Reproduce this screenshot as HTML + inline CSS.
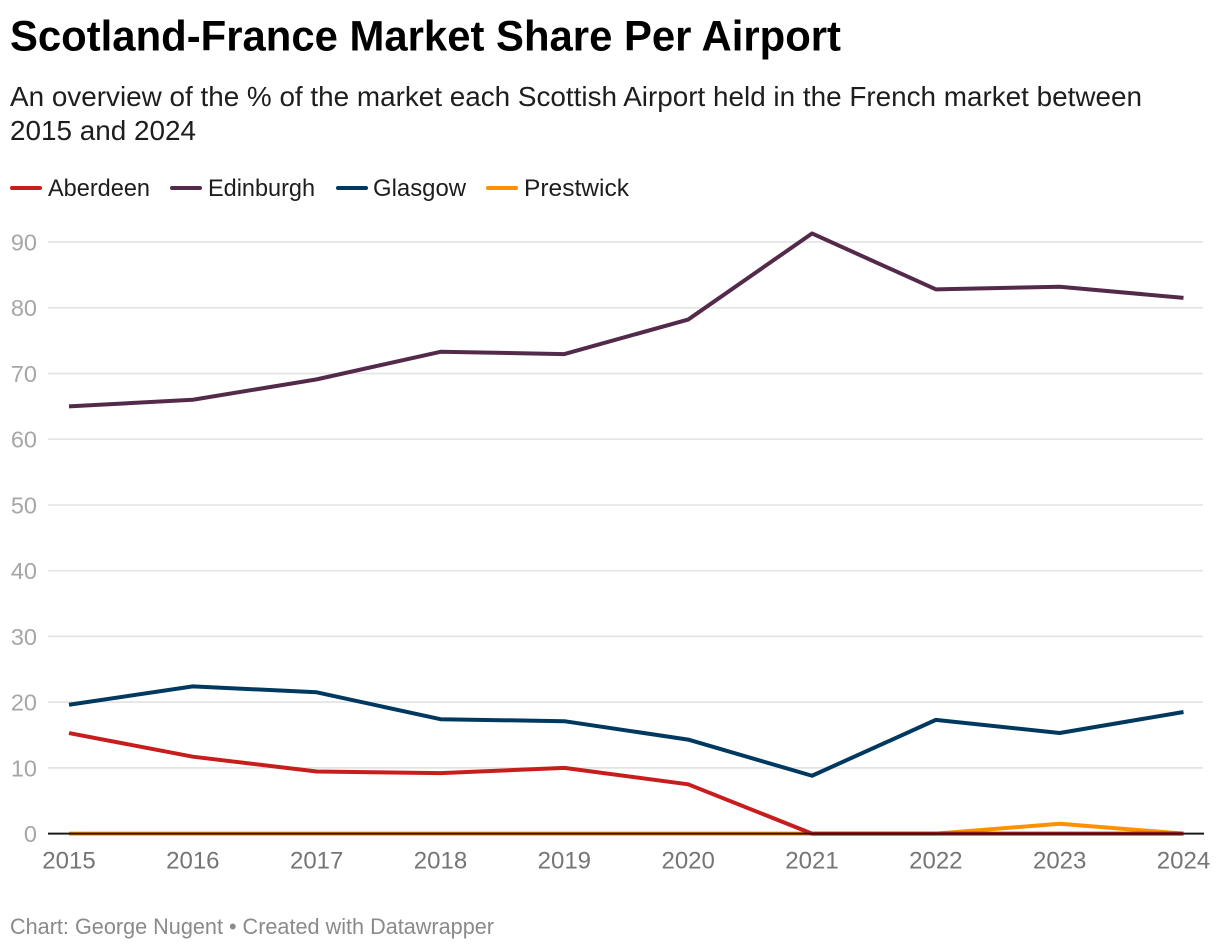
<!DOCTYPE html>
<html lang="en">
<head>
<meta charset="utf-8">
<title>Scotland-France Market Share Per Airport</title>
<style>
html,body{margin:0;padding:0;background:#fff;width:1220px;height:950px;overflow:hidden}
svg{display:block;font-family:"Liberation Sans",Arimo,sans-serif}
</style>
</head>
<body>
<svg id="chart" width="1220" height="950" viewBox="0 0 1220 950" xmlns="http://www.w3.org/2000/svg">
  <text x="10" y="50.5" font-size="43" font-weight="700" fill="#000" textLength="831" lengthAdjust="spacingAndGlyphs">Scotland-France Market Share Per Airport</text>
  <text x="10" y="106" font-size="28" fill="#1d1d1d" textLength="1132" lengthAdjust="spacingAndGlyphs">An overview of the % of the market each Scottish Airport held in the French market between</text>
  <text x="10" y="140" font-size="28" fill="#1d1d1d" textLength="186" lengthAdjust="spacingAndGlyphs">2015 and 2024</text>
  <g id="legend"></g>
  <g id="grid"></g>
  <g id="yticks"></g>
  <g id="xticks"></g>
  <g id="series"></g>
  <line id="baseline" x1="48" x2="1204" y1="833.6" y2="833.6" stroke="#1a1a1a" stroke-width="2"></line>
  <text x="10" y="934" font-size="22.5" fill="#8a8a8a" textLength="484" lengthAdjust="spacingAndGlyphs">Chart: George Nugent • Created with Datawrapper</text>
</svg>
<script>
const years = [2015, 2016, 2017, 2018, 2019, 2020, 2021, 2022, 2023, 2024];
const yTicks = [0, 10, 20, 30, 40, 50, 60, 70, 80, 90];
const edinburgh = [65.0, 66.0, 69.1, 73.3, 72.95, 78.2, 91.3, 82.8, 83.2, 81.5];
const glasgow = [19.6, 22.4, 21.5, 17.4, 17.1, 14.3, 8.8, 17.3, 15.3, 18.5];
const aberdeen = [15.3, 11.7, 9.45, 9.2, 10.0, 7.5, 0, 0, 0, 0];
const prestwick = [0, 0, 0, 0, 0, 0, 0, 0, 1.5, 0];

const NS = 'http://www.w3.org/2000/svg';
function xScale(year) {
  return 69 + (year - years[0]) * (1183.5 - 69) / (years[years.length - 1] - years[0]);
}
function yScale(value) {
  return 833.6 - value * (833.6 - 242) / 90;
}
function make(tag, parent, attrs, text) {
  const el = document.createElementNS(NS, tag);
  for (const k in attrs) el.setAttribute(k, attrs[k]);
  if (text !== undefined) el.textContent = text;
  parent.appendChild(el);
  return el;
}

const gridG = document.getElementById('grid');
const yG = document.getElementById('yticks');
yTicks.forEach(function (t) {
  if (t !== 0) {
    const gl = make('line', gridG, {x1: 48, x2: 1203, y1: yScale(t), y2: yScale(t), stroke: '#e4e4e4', 'stroke-width': 1.7});
    
    
  }
  const lb = make('text', yG, {x: 37, y: yScale(t) + 8.5, 'font-size': 23.5, fill: '#a6a6a6', 'text-anchor': 'end'}, String(t));
  
  
});

const xG = document.getElementById('xticks');
years.forEach(function (yr) {
  const lb = make('text', xG, {x: xScale(yr), y: 868.5, 'font-size': 24, fill: '#757575', 'text-anchor': 'middle'}, String(yr));
  
  
});

const seriesG = document.getElementById('series');
function drawLine(values, color) {
  const pts = values.map(function (v, i) { return xScale(years[i]) + ',' + yScale(v); }).join(' ');
  return make('polyline', seriesG, {points: pts, fill: 'none', stroke: color, 'stroke-width': 4, 'stroke-linejoin': 'round', 'stroke-linecap': 'butt'});
}
const linePrestwick = drawLine(prestwick, '#ff9100');


const lineAberdeen = drawLine(aberdeen, '#c71e1d');


const lineGlasgow = drawLine(glasgow, '#00395f');


const lineEdinburgh = drawLine(edinburgh, '#542a4b');



const legendG = document.getElementById('legend');
function legendEntry(label, color, x1, textX, textW) {
  make('line', legendG, {x1: x1 + 2, x2: x1 + 30, y1: 188, y2: 188, stroke: color, 'stroke-width': 4, 'stroke-linecap': 'round'});
  return make('text', legendG, {x: textX, y: 196, 'font-size': 24, fill: '#1d1d1d', textLength: textW, lengthAdjust: 'spacingAndGlyphs'}, label);
}
const legAberdeen = legendEntry('Aberdeen', '#c71e1d', 10, 48, 102);


const legEdinburgh = legendEntry('Edinburgh', '#542a4b', 170, 208, 107);


const legGlasgow = legendEntry('Glasgow', '#00395f', 336, 373, 93);


const legPrestwick = legendEntry('Prestwick', '#ff9100', 486, 524, 105);


</script>
</body>
</html>
